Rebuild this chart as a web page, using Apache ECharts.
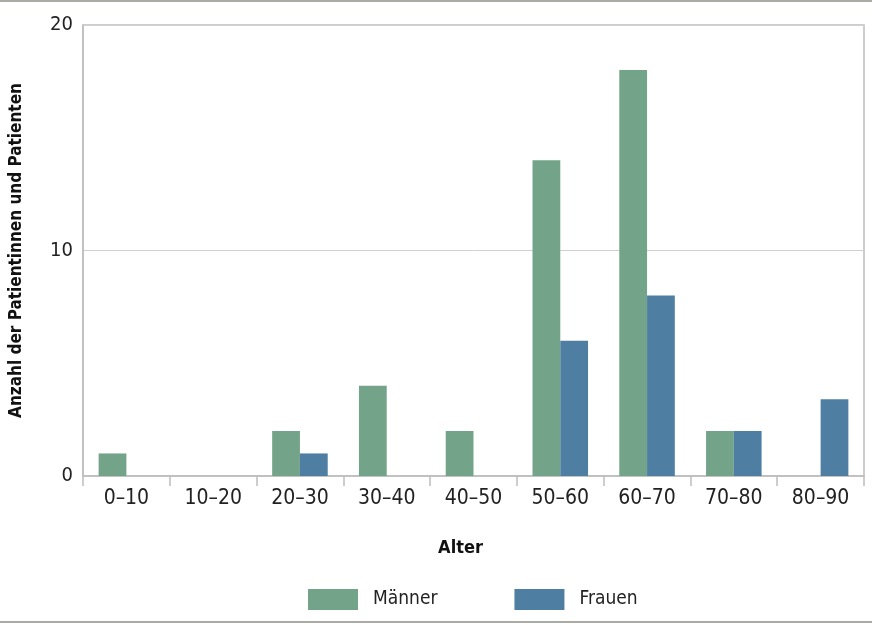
<!DOCTYPE html>
<html>
<head>
<meta charset="utf-8">
<script src="https://cdn.jsdelivr.net/npm/echarts@6/dist/echarts.min.js"></script>
<style>html,body{margin:0;padding:0;background:#fff;}#c{width:872px;height:625px;}</style>
</head>
<body>
<div id="c"></div>
<script>
const categories = ['0–10','10–20','20–30','30–40','40–50','50–60','60–70','70–80','80–90'];
const maenner = [1, 0, 2, 4, 2, 14, 18, 2, 0];
const frauen  = [0, 0, 1, 0, 0, 6, 8, 2, 3.4];
const yTicks = [0, 10, 20];
const seriesNames = ['Männer', 'Frauen'];

const FONT = '"Liberation Sans Narrow", "DejaVu Sans Condensed", "Roboto Condensed", Roboto, sans-serif';
const chart = echarts.init(document.getElementById('c'), null, {renderer: 'canvas'});
chart.setOption({
  animation: false,
  textStyle: {fontFamily: FONT},
  grid: {left: 82, right: 8, top: 25, bottom: 149, containLabel: false,
         show: true, borderColor: '#bdbdbd', borderWidth: 1.5, backgroundColor: 'transparent'},
  legend: {
    data: seriesNames,
    left: 303, top: 584,
    itemWidth: 50, itemHeight: 21, itemGap: 77,
    icon: 'rect',
    textStyle: {fontFamily: FONT, fontSize: 19, color: '#222', padding: [0, 0, 0, 10]}
  },
  xAxis: {
    type: 'category',
    data: categories,
    name: 'Alter',
    nameLocation: 'middle',
    nameGap: 63,
    nameTextStyle: {fontFamily: FONT, fontSize: 18, fontWeight: 'bold', color: '#111', padding: [0, 26, 0, 0]},
    axisLine: {lineStyle: {color: '#bdbdbd', width: 1.5}},
    axisTick: {show: true, length: 10, lineStyle: {color: '#bdbdbd', width: 1.5}},
    axisLabel: {fontFamily: FONT, fontSize: 21, color: '#222', margin: 12}
  },
  yAxis: {
    type: 'value',
    min: 0, max: 20, interval: 10,
    name: 'Anzahl der Patientinnen und Patienten',
    nameLocation: 'middle',
    nameGap: 58,
    nameTextStyle: {fontFamily: FONT, fontSize: 17, fontWeight: 'bold', color: '#111'},
    axisLine: {show: true, lineStyle: {color: '#bdbdbd', width: 1.5}},
    axisTick: {show: false},
    splitLine: {show: true, lineStyle: {color: '#d0d0d0', width: 1}},
    axisLabel: {fontFamily: FONT, fontSize: 20, color: '#222', margin: 10,
      formatter: v => yTicks.includes(v) ? String(v) : ''}
  },
  series: [
    {name: seriesNames[0], type: 'bar', data: maenner, barGap: '0%', barCategoryGap: '36%',
     itemStyle: {color: '#73a389'}},
    {name: seriesNames[1], type: 'bar', data: frauen, barGap: '0%', barCategoryGap: '36%',
     itemStyle: {color: '#4e7fa3'}}
  ],
  graphic: [
    {type: 'rect', left: 0, top: 0, shape: {width: 872, height: 2}, style: {fill: '#a9aba4'}, silent: true},
    {type: 'rect', left: 0, top: 621, shape: {width: 872, height: 2}, style: {fill: '#a9aba4'}, silent: true}
  ]
});
</script>
</body>
</html>
